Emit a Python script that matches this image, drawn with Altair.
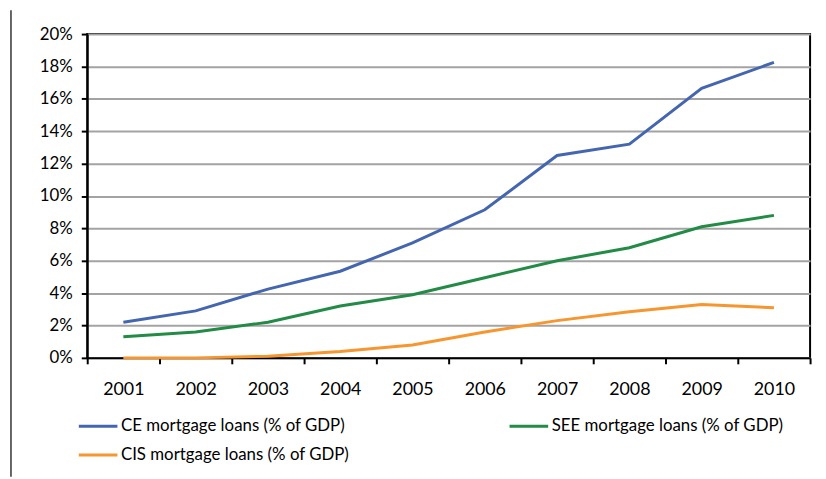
import altair as alt
import pandas as pd

years = ["2001", "2002", "2003", "2004", "2005", "2006", "2007", "2008", "2009", "2010"]
ce = [2.2, 2.9, 4.25, 5.35, 7.1, 9.15, 12.5, 13.2, 16.65, 18.25]
see = [1.3, 1.6, 2.2, 3.2, 3.9, 4.95, 6.0, 6.8, 8.1, 8.8]
cis = [0.0, 0.0, 0.1, 0.4, 0.8, 1.6, 2.3, 2.85, 3.3, 3.1]
series_names = [
    "CE mortgage loans (% of GDP)",
    "SEE mortgage loans (% of GDP)",
    "CIS mortgage loans (% of GDP)",
]
series_colors = ["#4466B0", "#228B45", "#F7962F"]

rows = []
for name, vals in zip(series_names, [ce, see, cis]):
    for y, v in zip(years, vals):
        rows.append({"year": y, "value": v, "series": name})
df = pd.DataFrame(rows)

FONT = "Lato"

lines = alt.Chart(df).mark_line(strokeWidth=3).encode(
    x=alt.X(
        "year:N",
        bandPosition=0.5,
        scale=alt.Scale(type="band", paddingInner=0, paddingOuter=0),
        axis=alt.Axis(
            title=None, labelAngle=0, tickBand="extent", grid=False,
            domainColor="black", domainWidth=2, tickColor="black", tickWidth=2,
            tickSize=6, labelFontSize=18, labelPadding=17, labelColor="black",
            labelFont=FONT,
        ),
    ),
    y=alt.Y(
        "value:Q",
        scale=alt.Scale(domain=[0, 20]),
        axis=alt.Axis(
            title=None, values=list(range(0, 21, 2)), labelExpr="datum.value + '%'",
            domainColor="black", domainWidth=2, tickColor="black", tickWidth=2,
            tickSize=6, labelFontSize=17, labelPadding=9, labelColor="black",
            labelFont=FONT, gridColor="#A3A3A3", gridWidth=2,
        ),
    ),
    color=alt.Color(
        "series:N",
        scale=alt.Scale(domain=series_names, range=series_colors),
        legend=alt.Legend(
            title=None, orient="none", legendX=-10, legendY=375,
            direction="horizontal", columns=2, columnPadding=155, rowPadding=-5,
            symbolType="stroke", symbolSize=1521, symbolStrokeWidth=3,
            labelFontSize=17, labelFont=FONT, labelColor="black", labelOffset=2,
            labelLimit=0, padding=0,
        ),
    ),
)

side_rule = alt.Chart(pd.DataFrame({"a": [0]})).mark_rule(
    color="#333333", strokeWidth=1.5
).encode(x=alt.value(-77), y=alt.value(-24), y2=alt.value(447))

chart = alt.layer(side_rule, lines).properties(
    width=730, height=327,
    autosize=alt.AutoSizeParams(type="none"),
    padding={"left": 80, "top": 24, "right": 8, "bottom": 120},
).configure_view(stroke="black", strokeWidth=2)

chart.save("out.html", embed_options={"renderer": "svg", "actions": False})
